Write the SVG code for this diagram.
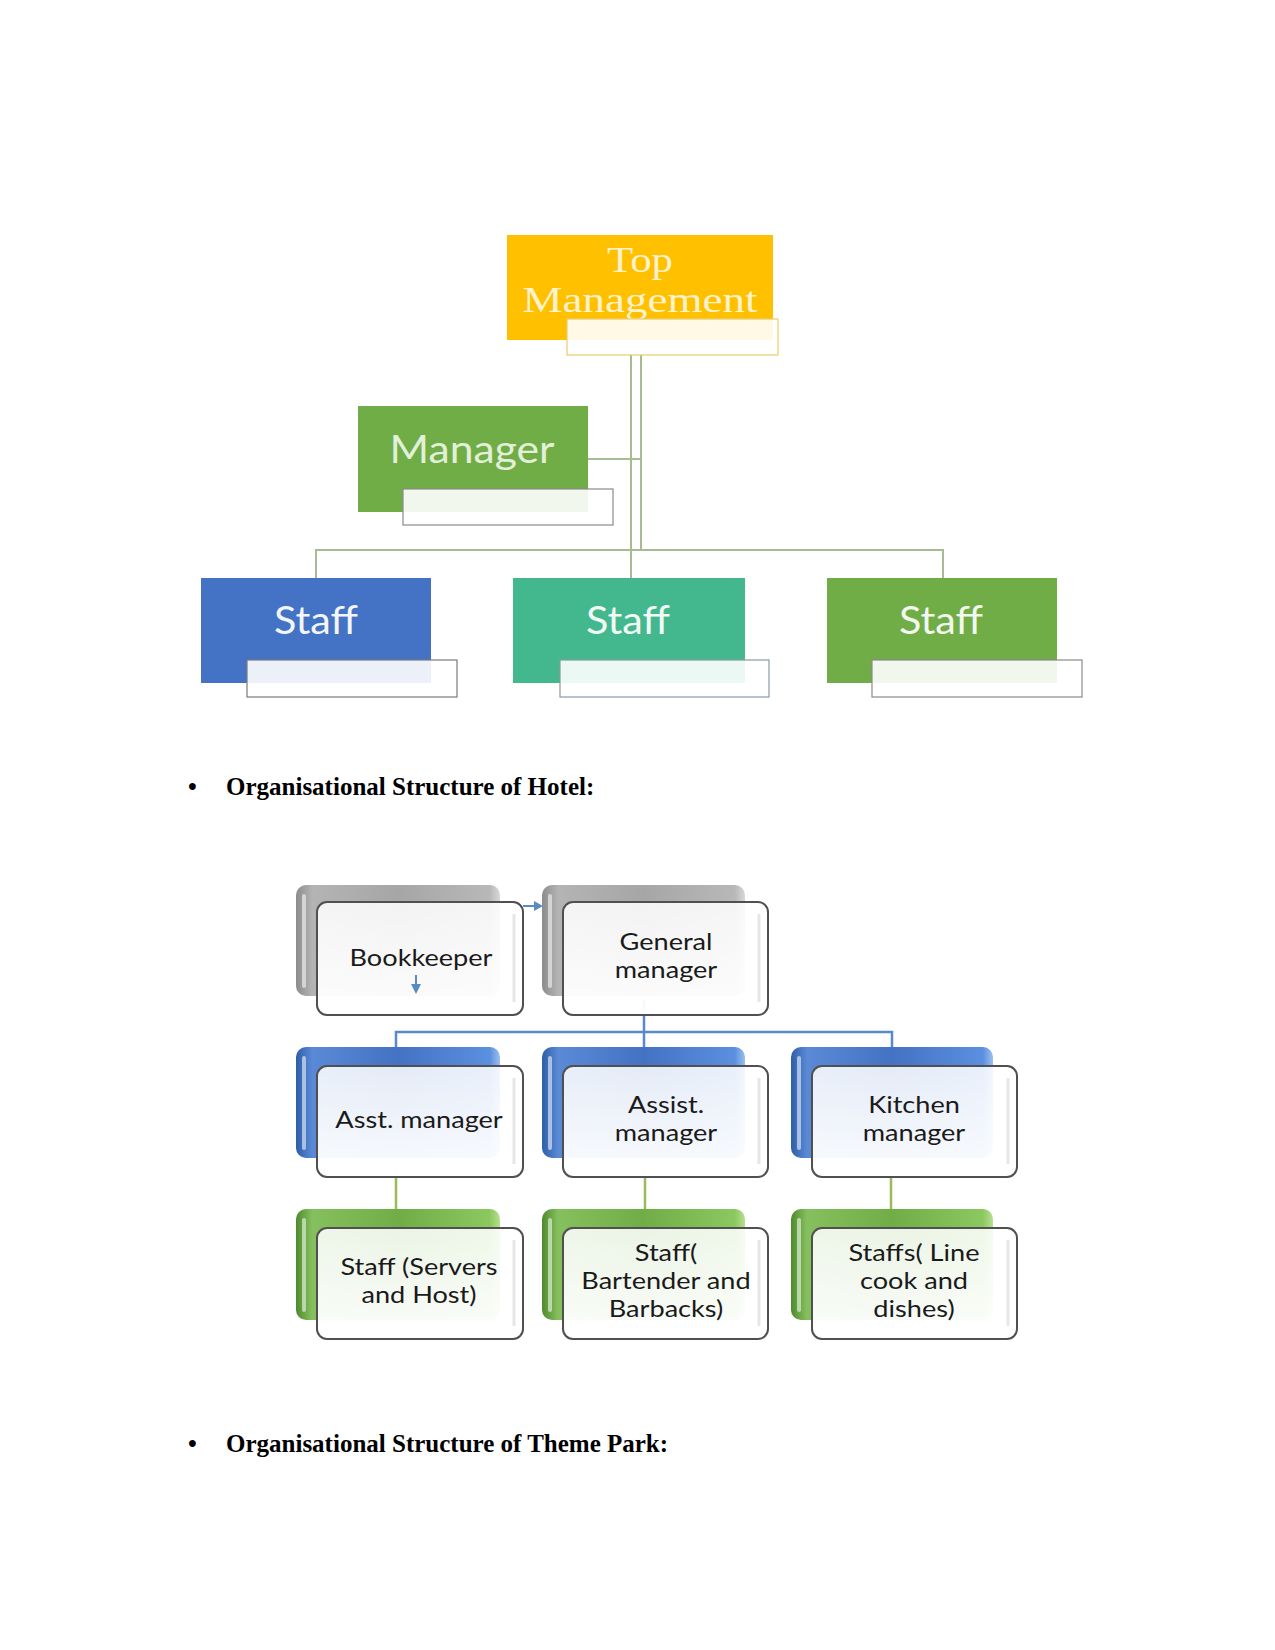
<svg xmlns="http://www.w3.org/2000/svg" width="1275" height="1650" viewBox="0 0 1275 1650">
<defs>
<style>
.tt{font-family:"Liberation Serif","Times New Roman",serif;fill:#FFF2CC;font-size:35px}
.ts{font-family:Lato,"Open Sans",sans-serif;font-size:38px;text-anchor:middle}
.ov{fill:#ffffff;fill-opacity:0.9;stroke-width:1.2}
.cn1{fill:none;stroke:#A7BC92;stroke-width:2}
.cnb{fill:none;stroke:#5A8AC6;stroke-width:2.5}
.cng{fill:none;stroke:#9BBB59;stroke-width:2.5}
.front{stroke:#505050;stroke-width:2;fill:url(#fg)}
.bt{font-family:Lato,"Open Sans",sans-serif;font-size:23px;fill:#1a1a1a;text-anchor:middle}
.hd{font-family:"Liberation Serif","Times New Roman",serif;font-weight:bold;font-size:25px;fill:#000}
.hl{fill:none;stroke:#ffffff;stroke-opacity:0.55;stroke-width:4;stroke-linecap:round}
.ar{fill:none;stroke:#5A8AC6;stroke-width:2}
.ah{fill:#5A8AC6}
</style>
<linearGradient id="fg" x1="0" y1="0" x2="0" y2="1">
<stop offset="0" stop-color="#ffffff" stop-opacity="0.86"/>
<stop offset="1" stop-color="#ffffff" stop-opacity="0.97"/>
</linearGradient>
<linearGradient id="gGray" x1="0" y1="0" x2="1" y2="0">
<stop offset="0" stop-color="#8c8c8c"/>
<stop offset="0.08" stop-color="#b4b4b4"/>
<stop offset="0.5" stop-color="#a6a6a6"/>
<stop offset="0.95" stop-color="#b8b8b8"/>
<stop offset="1" stop-color="#d8d8d8"/>
</linearGradient>
<linearGradient id="gBlue" x1="0" y1="0" x2="1" y2="0">
<stop offset="0" stop-color="#2f5ea8"/>
<stop offset="0.08" stop-color="#5a8ad6"/>
<stop offset="0.5" stop-color="#4472C4"/>
<stop offset="0.95" stop-color="#5b8fe0"/>
<stop offset="1" stop-color="#9cc0f0"/>
</linearGradient>
<linearGradient id="gGreen" x1="0" y1="0" x2="1" y2="0">
<stop offset="0" stop-color="#4f8a2e"/>
<stop offset="0.08" stop-color="#86c05e"/>
<stop offset="0.5" stop-color="#70AD47"/>
<stop offset="0.95" stop-color="#8cc860"/>
<stop offset="1" stop-color="#b6e08e"/>
</linearGradient>
</defs>
<rect width="1275" height="1650" fill="#ffffff"/>

<!-- Top chart connectors -->
<g id="connectors-top">
<path class="cn1" d="M631,355 V578"/>
<path class="cn1" d="M641,355 V550"/>
<path class="cn1" d="M588,459 H641"/>
<path class="cn1" d="M316,578 V550 H943 V578"/>
</g>

<g id="top-management">
<rect x="507" y="235" width="266" height="105" fill="#FFC000"/>
<text class="tt" x="640" y="272" text-anchor="middle" textLength="66" lengthAdjust="spacingAndGlyphs">Top</text>
<text class="tt" x="640" y="312" text-anchor="middle" textLength="235" lengthAdjust="spacingAndGlyphs">Management</text>
<rect class="ov" x="567" y="319" width="211" height="36" stroke="#E9CB6A"/>
</g>

<g id="manager">
<rect x="358" y="406" width="230" height="106" fill="#70AD47"/>
<text class="ts" x="472" y="463" fill="#E2F0D9" textLength="165" lengthAdjust="spacingAndGlyphs">Manager</text>
<rect class="ov" x="403" y="489" width="210" height="36" stroke="#8a8a8a"/>
</g>

<g id="staff-1">
<rect x="201" y="578" width="230" height="105" fill="#4472C4"/>
<text class="ts" x="316" y="634" fill="#F2F6FC" textLength="84" lengthAdjust="spacingAndGlyphs">Staff</text>
<rect class="ov" x="247" y="660" width="210" height="37" stroke="#7a7a7a"/>
</g>

<g id="staff-2">
<rect x="513" y="578" width="232" height="105" fill="#43B88E"/>
<text class="ts" x="628" y="634" fill="#F2FAF6" textLength="84" lengthAdjust="spacingAndGlyphs">Staff</text>
<rect class="ov" x="560" y="660" width="209" height="37" stroke="#8a9aa0"/>
</g>

<g id="staff-3">
<rect x="827" y="578" width="230" height="105" fill="#70AD47"/>
<text class="ts" x="941" y="634" fill="#F2F8EE" textLength="84" lengthAdjust="spacingAndGlyphs">Staff</text>
<rect class="ov" x="872" y="660" width="210" height="37" stroke="#8a8a8a"/>
</g>

<g id="heading-hotel">
<text class="hd" x="188" y="795">•</text>
<text class="hd" x="226" y="795">Organisational Structure of Hotel:</text>
</g>

<!-- Hotel chart connectors -->
<g id="connectors-hotel">
<path class="cnb" d="M644,1000 V1047"/>
<path class="cnb" d="M396,1047 V1032 H892 V1047"/>
<path class="cng" d="M396,1177 V1209"/>
<path class="cng" d="M645,1177 V1209"/>
<path class="cng" d="M891,1177 V1209"/>
</g>

<g id="bookkeeper">
<rect x="296" y="885" width="204" height="111" rx="10" fill="url(#gGray)"/>
<path class="hl" d="M304,896 V986"/>
<rect class="front" x="317" y="902" width="206" height="113" rx="10"/>
<path fill="none" stroke="#e6e6e6" stroke-width="3" d="M514,914 V1002"/>
<text class="bt" transform="translate(421,966) scale(1.18,1)">Bookkeeper</text>
</g>

<g id="general-manager">
<rect x="542" y="885" width="203" height="111" rx="10" fill="url(#gGray)"/>
<path class="hl" d="M550,896 V986"/>
<rect class="front" x="563" y="902" width="205" height="113" rx="10"/>
<path fill="none" stroke="#e6e6e6" stroke-width="3" d="M759,914 V1002"/>
<text class="bt" transform="translate(666,950) scale(1.18,1)">General</text>
<text class="bt" transform="translate(666,978) scale(1.18,1)">manager</text>
</g>

<g id="small-arrows">
<path class="ar" d="M523,906 H535"/>
<path class="ah" d="M534,901 L543,906 L534,911 z"/>
<path class="ar" d="M416,975 V985"/>
<path class="ah" d="M411,984 L416,994 L421,984 z"/>
</g>

<g id="asst-manager">
<rect x="296" y="1047" width="204" height="111" rx="10" fill="url(#gBlue)"/>
<path class="hl" d="M304,1058 V1148"/>
<rect class="front" x="317" y="1066" width="206" height="111" rx="10"/>
<path fill="none" stroke="#e6e6e6" stroke-width="3" d="M514,1078 V1164"/>
<text class="bt" transform="translate(419,1128) scale(1.18,1)">Asst. manager</text>
</g>

<g id="assist-manager">
<rect x="542" y="1047" width="203" height="111" rx="10" fill="url(#gBlue)"/>
<path class="hl" d="M550,1058 V1148"/>
<rect class="front" x="563" y="1066" width="205" height="111" rx="10"/>
<path fill="none" stroke="#e6e6e6" stroke-width="3" d="M759,1078 V1164"/>
<text class="bt" transform="translate(666,1113) scale(1.18,1)">Assist.</text>
<text class="bt" transform="translate(666,1141) scale(1.18,1)">manager</text>
</g>

<g id="kitchen-manager">
<rect x="791" y="1047" width="202" height="111" rx="10" fill="url(#gBlue)"/>
<path class="hl" d="M799,1058 V1148"/>
<rect class="front" x="812" y="1066" width="205" height="111" rx="10"/>
<path fill="none" stroke="#e6e6e6" stroke-width="3" d="M1008,1078 V1164"/>
<text class="bt" transform="translate(914,1113) scale(1.18,1)">Kitchen</text>
<text class="bt" transform="translate(914,1141) scale(1.18,1)">manager</text>
</g>

<g id="staff-servers">
<rect x="296" y="1209" width="204" height="111" rx="10" fill="url(#gGreen)"/>
<path class="hl" d="M304,1220 V1310"/>
<rect class="front" x="317" y="1228" width="206" height="111" rx="10"/>
<path fill="none" stroke="#e6e6e6" stroke-width="3" d="M514,1240 V1326"/>
<text class="bt" transform="translate(419,1275) scale(1.18,1)">Staff (Servers</text>
<text class="bt" transform="translate(419,1303) scale(1.18,1)">and Host)</text>
</g>

<g id="staff-bartender">
<rect x="542" y="1209" width="203" height="111" rx="10" fill="url(#gGreen)"/>
<path class="hl" d="M550,1220 V1310"/>
<rect class="front" x="563" y="1228" width="205" height="111" rx="10"/>
<path fill="none" stroke="#e6e6e6" stroke-width="3" d="M759,1240 V1326"/>
<text class="bt" transform="translate(666,1261) scale(1.18,1)">Staff(</text>
<text class="bt" transform="translate(666,1289) scale(1.18,1)">Bartender and</text>
<text class="bt" transform="translate(666,1317) scale(1.18,1)">Barbacks)</text>
</g>

<g id="staff-kitchen">
<rect x="791" y="1209" width="202" height="111" rx="10" fill="url(#gGreen)"/>
<path class="hl" d="M799,1220 V1310"/>
<rect class="front" x="812" y="1228" width="205" height="111" rx="10"/>
<path fill="none" stroke="#e6e6e6" stroke-width="3" d="M1008,1240 V1326"/>
<text class="bt" transform="translate(914,1261) scale(1.18,1)">Staffs( Line</text>
<text class="bt" transform="translate(914,1289) scale(1.18,1)">cook and</text>
<text class="bt" transform="translate(914,1317) scale(1.18,1)">dishes)</text>
</g>

<g id="heading-park">
<text class="hd" x="188" y="1452">•</text>
<text class="hd" x="226" y="1452">Organisational Structure of Theme Park:</text>
</g>
</svg>
